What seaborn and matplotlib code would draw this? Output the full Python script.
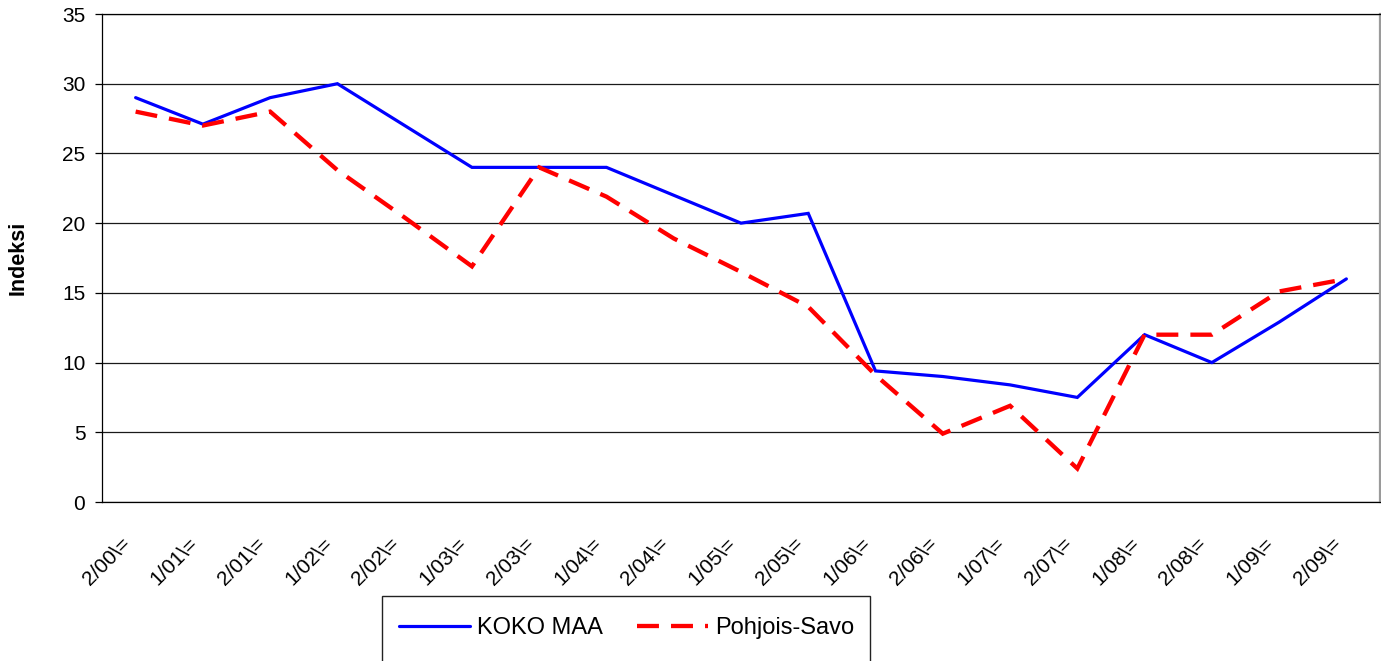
import matplotlib
matplotlib.use("Agg")
import matplotlib.pyplot as plt
from matplotlib.transforms import ScaledTranslation
from matplotlib.patches import Rectangle
import seaborn as sns
import pandas as pd

periods = ["2/00\\=", "1/01\\=", "2/01\\=", "1/02\\=", "2/02\\=", "1/03\\=", "2/03\\=",
           "1/04\\=", "2/04\\=", "1/05\\=", "2/05\\=", "1/06\\=", "2/06\\=", "1/07\\=",
           "2/07\\=", "1/08\\=", "2/08\\=", "1/09\\=", "2/09\\="]
koko_maa = [29.0, 27.1, 29.0, 30.0, 27.0, 24.0, 24.0, 24.0, 22.0, 20.0, 20.7,
            9.4, 9.0, 8.4, 7.5, 12.0, 10.0, 12.9, 16.0]
pohjois_savo = [28.0, 27.0, 28.0, 23.8, 20.4, 16.9, 24.0, 21.9, 18.9, 16.5, 14.0,
                9.1, 4.9, 6.9, 2.4, 12.0, 12.0, 15.1, 16.0]
series_names = ["KOKO MAA", "Pohjois-Savo"]
y_ticks = [0, 5, 10, 15, 20, 25, 30, 35]

df = pd.DataFrame({
    "period": periods * 2,
    "value": koko_maa + pohjois_savo,
    "series": [series_names[0]] * len(periods) + [series_names[1]] * len(periods),
})

sns.set_theme(style="white")
plt.rcParams["font.family"] = ["Liberation Sans", "DejaVu Sans"]
plt.rcParams["text.color"] = "black"

W, H = 1381, 661
fig = plt.figure(figsize=(W / 100, H / 100), dpi=100)
ax = fig.add_axes([102 / W, 1 - 502 / H, 1278 / W, 488 / H])

sns.lineplot(data=df, x="period", y="value", hue="series", style="series",
             palette={"KOKO MAA": "#0000ff", "Pohjois-Savo": "#ff0000"},
             dashes={"KOKO MAA": "", "Pohjois-Savo": (5.1, 2.8)},
             sort=False, legend=False, ax=ax, zorder=3)

lines = ax.get_lines()
lines[0].set_linewidth(2.3)
lines[1].set_linewidth(3.1)
for ln in lines:
    ln.set_solid_joinstyle("miter")
    ln.set_dash_joinstyle("miter")

ax.set_xlim(-0.5, len(periods) - 0.5)
ax.set_ylim(0, 35)
ax.set_yticks(y_ticks)
ax.set_xticks(range(len(periods)))
ax.set_xticklabels(periods)
ax.yaxis.grid(True, color="#1a1a1a", linewidth=0.9)
ax.xaxis.grid(False)
ax.set_axisbelow(True)

for side in ["left", "bottom", "top"]:
    ax.spines[side].set_visible(True)
    ax.spines[side].set_color("black")
    ax.spines[side].set_linewidth(0.9)
ax.spines["right"].set_visible(True)
ax.spines["right"].set_color("#9a9a9a")
ax.spines["right"].set_linewidth(1.6)

ax.tick_params(axis="y", which="major", left=True, length=5, width=0.9,
               color="black", pad=7, labelsize=15, labelcolor="black")
ax.tick_params(axis="x", which="major", bottom=False, length=0, pad=28,
               labelsize=15, labelcolor="black")

for lab in ax.get_xticklabels():
    lab.set_rotation(45)
    lab.set_rotation_mode("anchor")
    lab.set_ha("right")
    lab.set_va("center")
    lab.set_transform(lab.get_transform() + ScaledTranslation(-8 / 100, 0, fig.dpi_scale_trans))

ax.set_xlabel("")
ax.set_ylabel("Indeksi", fontsize=15.5, fontweight="bold", labelpad=24, color="black")

# legend box (extends past the bottom edge of the figure, as in the reference)
fig.patches.append(Rectangle((382 / W, -10 / H), (870 - 382) / W, (H - 596 + 10) / H,
                             transform=fig.transFigure, facecolor="white",
                             edgecolor="#222222", linewidth=1.0, zorder=1))

leg = fig.legend(handles=lines, labels=series_names, ncol=2,
                 loc="upper left", bbox_to_anchor=(399 / W, 1 - 617 / H),
                 fontsize=17, frameon=False,
                 handlelength=3.0, handletextpad=0.3, columnspacing=1.45,
                 borderpad=0, borderaxespad=0)
for t in leg.get_texts():
    t.set_color("black")
leg.set_zorder(2)

fig.savefig("out.png", dpi=100)
